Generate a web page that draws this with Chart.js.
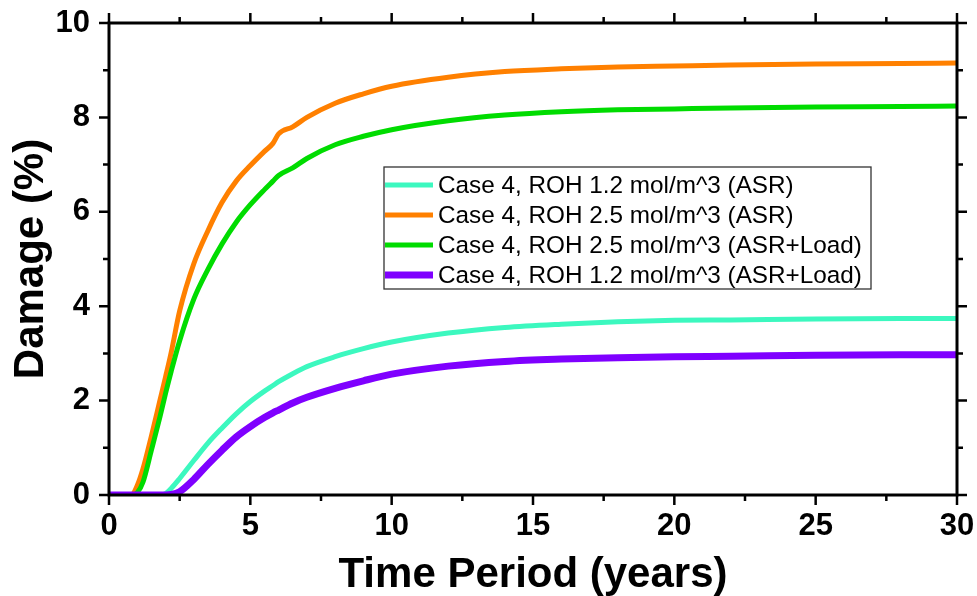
<!DOCTYPE html>
<html lang="en">
<head>
  <meta charset="UTF-8" />
  <title>Damage vs Time Period</title>
  <script src="https://cdn.jsdelivr.net/npm/chart.js"></script>
  <style>
    body { margin:0; background:#fff; }
    #wrap { width:977px; height:596px; }
  </style>
</head>
<body>
<div id="wrap"><canvas id="dmgChart" width="977" height="596"></canvas></div>

<script>
  // ---- data ----
  const years = [0, 0.5, 0.8, 1.0, 1.2, 1.5, 1.8, 2.0, 2.2, 2.5, 3, 3.5, 4, 4.5, 5, 5.5, 5.8, 6.0, 6.5, 7, 8, 9, 10, 12, 14, 16, 18, 20, 22, 25, 28, 30];

  const roh12Asr = [0, 0, 0, 0, 0, 0, 0, 0.03, 0.14, 0.35, 0.73, 1.1, 1.42, 1.72, 1.98, 2.2, 2.32, 2.4, 2.57, 2.72, 2.93, 3.1, 3.24, 3.43, 3.55, 3.62, 3.67, 3.7, 3.71, 3.73, 3.74, 3.74];
  const roh25Asr = [0, 0, 0, 0.2, 0.55, 1.25, 2.0, 2.5, 3.02, 3.9, 4.9, 5.6, 6.2, 6.65, 6.98, 7.28, 7.45, 7.65, 7.8, 8.0, 8.3, 8.5, 8.66, 8.85, 8.97, 9.03, 9.07, 9.09, 9.11, 9.13, 9.14, 9.15];
  const roh25Load = [0, 0, 0, 0.05, 0.27, 0.95, 1.65, 2.15, 2.62, 3.27, 4.15, 4.78, 5.32, 5.78, 6.15, 6.47, 6.65, 6.77, 6.93, 7.13, 7.42, 7.6, 7.74, 7.93, 8.05, 8.12, 8.16, 8.18, 8.2, 8.22, 8.23, 8.24];
  const roh12Load = [0, 0, 0, 0, 0, 0, 0, 0, 0.01, 0.07, 0.33, 0.65, 0.95, 1.23, 1.45, 1.64, 1.74, 1.8, 1.95, 2.07, 2.26, 2.42, 2.56, 2.73, 2.83, 2.88, 2.91, 2.93, 2.94, 2.96, 2.97, 2.97];

  const seriesLabels = [
    'Case 4, ROH 1.2 mol/m^3 (ASR)',
    'Case 4, ROH 2.5 mol/m^3 (ASR)',
    'Case 4, ROH 2.5 mol/m^3 (ASR+Load)',
    'Case 4, ROH 1.2 mol/m^3 (ASR+Load)'
  ];
  const seriesValues = [roh12Asr, roh25Asr, roh25Load, roh12Load];
  const seriesColors = ['#3cf8bf', '#ff8000', '#00dc00', '#7f00ff'];
  const seriesWidths = [5, 5, 5, 7];

  const xMajor = [0, 5, 10, 15, 20, 25, 30];
  const xMinor = [2.5, 7.5, 12.5, 17.5, 22.5, 27.5];
  const yMajor = [0, 2, 4, 6, 8, 10];
  const yMinor = [1, 3, 5, 7, 9];

  const FONT = '"Liberation Sans", Arial, sans-serif';

  // frame + outward ticks on all four sides
  const framePlugin = {
    id: 'frame',
    afterDatasetsDraw(chart) {
      const { ctx, chartArea: a, scales: { x, y } } = chart;
      ctx.save();
      ctx.strokeStyle = '#000';
      ctx.lineWidth = 3;
      ctx.strokeRect(a.left, a.top, a.right - a.left, a.bottom - a.top);
      ctx.lineWidth = 2.5;
      const tick = (vals, len) => {
        vals.forEach(v => {
          const px = x.getPixelForValue(v);
          ctx.beginPath();
          ctx.moveTo(px, a.bottom); ctx.lineTo(px, a.bottom + len);
          ctx.moveTo(px, a.top); ctx.lineTo(px, a.top - len);
          ctx.stroke();
        });
      };
      const tickY = (vals, len) => {
        vals.forEach(v => {
          const py = y.getPixelForValue(v);
          ctx.beginPath();
          ctx.moveTo(a.left, py); ctx.lineTo(a.left - len, py);
          ctx.moveTo(a.right, py); ctx.lineTo(a.right + len, py);
          ctx.stroke();
        });
      };
      tick(xMajor, 10); tick(xMinor, 6);
      tickY(yMajor, 10); tickY(yMinor, 6);
      ctx.restore();
    }
  };

  // boxed legend inside the plot
  const legendPlugin = {
    id: 'boxLegend',
    afterDraw(chart) {
      const { ctx, chartArea: a } = chart;
      const left = a.left + 275, top = a.top + 144, w = 487, h = 122;
      ctx.save();
      ctx.fillStyle = '#fff';
      ctx.fillRect(left, top, w, h);
      ctx.strokeStyle = '#333';
      ctx.lineWidth = 1.3;
      ctx.strokeRect(left, top, w, h);
      ctx.font = '24.3px ' + FONT;
      ctx.textBaseline = 'middle';
      ctx.fillStyle = '#000';
      seriesLabels.forEach((lab, i) => {
        const cy = top + 18 + i * 30;
        ctx.strokeStyle = seriesColors[i];
        ctx.lineWidth = seriesWidths[i];
        ctx.beginPath();
        ctx.moveTo(left + 1, cy); ctx.lineTo(left + 49, cy);
        ctx.stroke();
        ctx.fillText(lab, left + 54, cy + 1);
      });
      ctx.restore();
    }
  };

  // stop tick labels from pushing the plot area in
  const noPad = s => { s.paddingTop = 0; s.paddingBottom = 0; s.paddingLeft = 0; s.paddingRight = 0; };

  new Chart(document.getElementById('dmgChart'), {
    type: 'line',
    data: {
      datasets: seriesValues.map((vals, i) => ({
        label: seriesLabels[i],
        data: years.map((t, k) => ({ x: t, y: vals[k] })),
        borderColor: seriesColors[i],
        borderWidth: seriesWidths[i],
        pointRadius: 0,
        fill: false,
        cubicInterpolationMode: 'monotone',
        order: seriesValues.length - 1 - i
      }))
    },
    options: {
      responsive: false,
      animation: false,
      layout: { padding: { top: 23, right: 20, left: 0, bottom: 0 } },
      plugins: { legend: { display: false }, tooltip: { enabled: false } },
      scales: {
        x: {
          type: 'linear', min: 0, max: 30,
          afterFit: s => { s.height = 101; noPad(s); },
          grid: { display: false, drawTicks: false },
          border: { display: false },
          ticks: { stepSize: 5, color: '#000', padding: 13, maxRotation: 0,
                   font: { family: FONT, size: 31, weight: 'bold' } },
          title: { display: true, text: 'Time Period (years)', color: '#000',
                   padding: { top: 0, bottom: 0 },
                   font: { family: FONT, size: 42, weight: 'bold', lineHeight: 1 } }
        },
        y: {
          min: 0, max: 10,
          afterFit: s => { s.width = 109; noPad(s); },
          grid: { display: false, drawTicks: false },
          border: { display: false },
          ticks: { stepSize: 2, color: '#000', padding: 19,
                   font: { family: FONT, size: 31, weight: 'bold' } },
          title: { display: true, text: 'Damage (%)', color: '#000',
                   padding: { top: 10, bottom: 0 },
                   font: { family: FONT, size: 42, weight: 'bold', lineHeight: 1 } }
        }
      }
    },
    plugins: [framePlugin, legendPlugin]
  });
</script>
</body>
</html>
